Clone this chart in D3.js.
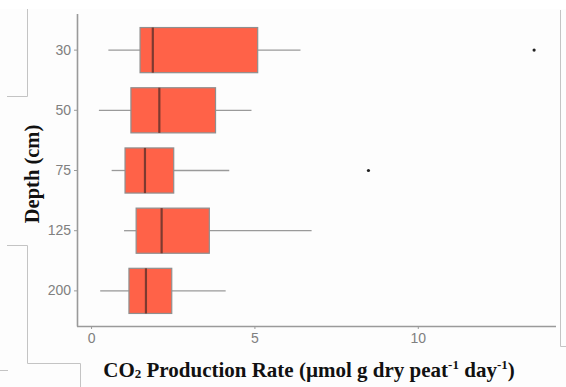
<!DOCTYPE html>
<html><head><meta charset="utf-8">
<script src="https://cdn.jsdelivr.net/npm/d3@7"></script>
<style>body{margin:0;background:#fff;}svg{display:block;}</style>
</head><body>
<script>
const depths = ["30","50","75","125","200"];
const whiskerLow = [0.53, 0.24, 0.63, 1.01, 0.28];
const q1 = [1.50, 1.22, 1.04, 1.38, 1.16];
const median = [1.89, 2.09, 1.65, 2.16, 1.68];
const q3 = [5.10, 3.81, 2.53, 3.62, 2.47];
const whiskerHigh = [6.41, 4.91, 4.23, 6.75, 4.12];
const outliers = [{depth:"30", value:13.56}, {depth:"75", value:8.49}];
const xTicks = [0, 5, 10];

const W = 566, H = 387;
const svg = d3.select("body").append("svg").attr("width", W).attr("height", H);
svg.append("rect").attr("width", W).attr("height", H).attr("fill", "#fdfdfd");
svg.append("rect").attr("width", W).attr("height", 9).attr("fill", "#fff");

// screenshot frame artifacts
const art = svg.append("g").attr("fill","none").attr("stroke","#c4c4c4").attr("stroke-width",1);
art.append("path").attr("d","M7,96.5H27.5V9");
art.append("path").attr("d","M7,245.5H27.5V363.5H80.5V387");
art.append("path").attr("d","M0,370.5H8");
art.append("path").attr("d","M560.5,10V346.5H566");

const xMin = -0.43, xMax = 14.23;
const x = d3.scaleLinear().domain([xMin, xMax]).range([77, 556]);
const y = d3.scaleBand().domain(depths).range([14, 327]).paddingOuter(0.1).paddingInner(0);
const cy = d => y(d) + y.bandwidth()/2;
const boxH = y.bandwidth()*0.75;

// axes
const xAxis = svg.append("g").attr("transform","translate(0,326)")
  .call(d3.axisBottom(x).tickValues(xTicks).tickSize(3).tickPadding(4).tickFormat(d3.format("d")));
const yAxis = svg.append("g").attr("transform","translate(77,0)")
  .call(d3.axisLeft(y).tickSize(3).tickPadding(3));
[xAxis, yAxis].forEach(a => {
  a.select(".domain").attr("stroke","#9a9a9a").attr("stroke-width",1.6);
  a.selectAll(".tick line").attr("stroke","#9a9a9a");
  a.selectAll(".tick text").attr("fill","#808080").attr("font-family","'Liberation Sans', Arial, sans-serif").attr("font-size",14);
});
yAxis.select(".domain").attr("d","M0.5,14V326.5");
xAxis.select(".domain").attr("d","M77,0.5H556");

const g = svg.append("g");
depths.forEach((d,i) => {
  const c = cy(d);
  g.append("line").attr("x1",x(whiskerLow[i])).attr("x2",x(q1[i])).attr("y1",c).attr("y2",c).attr("stroke","#9a9a9a").attr("stroke-width",1.3);
  g.append("line").attr("x1",x(q3[i])).attr("x2",x(whiskerHigh[i])).attr("y1",c).attr("y2",c).attr("stroke","#9a9a9a").attr("stroke-width",1.3);
  g.append("rect").attr("x",x(q1[i])).attr("y",c-boxH/2).attr("width",x(q3[i])-x(q1[i])).attr("height",boxH)
    .attr("fill","#ff6248").attr("stroke","#8f8f8f").attr("stroke-width",1.2);
  g.append("line").attr("x1",x(median[i])).attr("x2",x(median[i])).attr("y1",c-boxH/2).attr("y2",c+boxH/2)
    .attr("stroke","#7d3a30").attr("stroke-width",2.2);
});
g.selectAll("circle").data(outliers).join("circle")
  .attr("cx", d=>x(d.value)).attr("cy", d=>cy(d.depth)).attr("r",1.6).attr("fill","#222");

// titles
svg.append("text").attr("transform","translate(39,174) rotate(-90)").attr("text-anchor","middle")
  .attr("font-family","'Liberation Serif','Times New Roman',serif").attr("font-weight","bold").attr("font-size",20.5)
  .attr("fill","#111").text("Depth (cm)");
const xt = svg.append("text").attr("x",309).attr("y",377).attr("text-anchor","middle")
  .attr("font-family","'Liberation Serif','Times New Roman',serif").attr("font-weight","bold").attr("font-size",21).attr("fill","#111");
xt.append("tspan").text("CO");
xt.append("tspan").attr("font-size",13).attr("dy",1).text("2");
xt.append("tspan").attr("dy",-1).text(" Production Rate (µmol g dry peat");
xt.append("tspan").attr("font-size",13).attr("dy",-8).text("-1");
xt.append("tspan").attr("dy",8).text(" day");
xt.append("tspan").attr("font-size",13).attr("dy",-8).text("-1");
xt.append("tspan").attr("dy",8).text(")");
</script>
</body></html>
